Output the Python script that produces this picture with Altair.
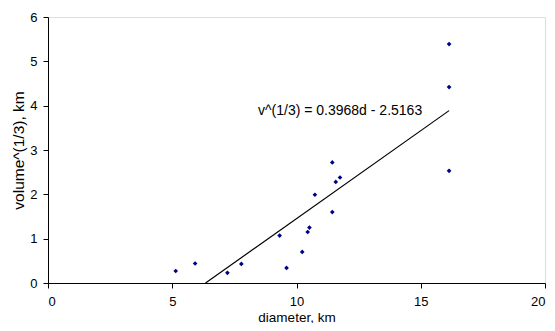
import altair as alt
import pandas as pd

# crater data
diameter = [5.14, 5.92, 7.22, 7.78, 9.32, 9.60, 10.23, 10.45, 10.52, 10.74,
            11.44, 11.44, 11.58, 11.75, 16.14, 16.14, 16.14]
volume_cbrt = [0.27, 0.44, 0.23, 0.43, 1.07, 0.34, 0.70, 1.15, 1.25, 1.99,
               2.72, 1.60, 2.28, 2.38, 5.39, 4.42, 2.53]

# trendline end points
trend_d = [6.34, 16.14]
trend_v = [0.0, 3.888]

label_text = ["v^(1/3) = 0.3968d - 2.5163"]
label_d = [8.45]
label_v = [3.88]

x_ticks = [0, 5, 10, 15, 20]
y_ticks = [0, 1, 2, 3, 4, 5, 6]

pts = pd.DataFrame({"d": diameter, "v": volume_cbrt})
trend = pd.DataFrame({"d": trend_d, "v": trend_v})
lab = pd.DataFrame({"d": label_d, "v": label_v, "t": label_text})

FONT = "Liberation Sans"

xscale = alt.Scale(domain=[0, 20], nice=False, zero=False)
yscale = alt.Scale(domain=[0, 6], nice=False, zero=False)

xaxis = alt.Axis(title="diameter, km", values=x_ticks, grid=False,
                 domainColor="black", tickColor="black", tickSize=5,
                 labelFont=FONT, labelFontSize=13, labelColor="black",
                 labelPadding=7, titleFont=FONT, titleFontSize=13.5,
                 titleFontWeight="normal", titleColor="black", titlePadding=2)
yaxis = alt.Axis(title="volume^(1/3), km", values=y_ticks, grid=False,
                 domainColor="black", tickColor="black", tickSize=5,
                 labelFont=FONT, labelFontSize=13, labelColor="black",
                 labelPadding=6, titleFont=FONT, titleFontSize=15.5,
                 titleFontWeight="normal", titleColor="black", titlePadding=3)

points = alt.Chart(pts).mark_point(shape="diamond", filled=True, size=22,
                                   color="#000080", opacity=1).encode(
    x=alt.X("d:Q", scale=xscale, axis=xaxis),
    y=alt.Y("v:Q", scale=yscale, axis=yaxis),
)

line = alt.Chart(trend).mark_line(color="black", strokeWidth=1.2).encode(
    x=alt.X("d:Q", scale=xscale),
    y=alt.Y("v:Q", scale=yscale),
)

text = alt.Chart(lab).mark_text(align="left", baseline="middle", font=FONT,
                                fontSize=14, color="black").encode(
    x=alt.X("d:Q", scale=xscale),
    y=alt.Y("v:Q", scale=yscale),
    text="t:N",
)

chart = alt.layer(line, points, text).properties(
    width=497, height=266,
    autosize=alt.AutoSizeParams(type="none"),
    padding={"left": 40, "top": 9, "right": 2, "bottom": 40},
).configure_view(stroke="#a0a0a0", strokeWidth=1.5).configure(background="white")

chart.save("out.html", embed_options={"renderer": "svg", "actions": False})
